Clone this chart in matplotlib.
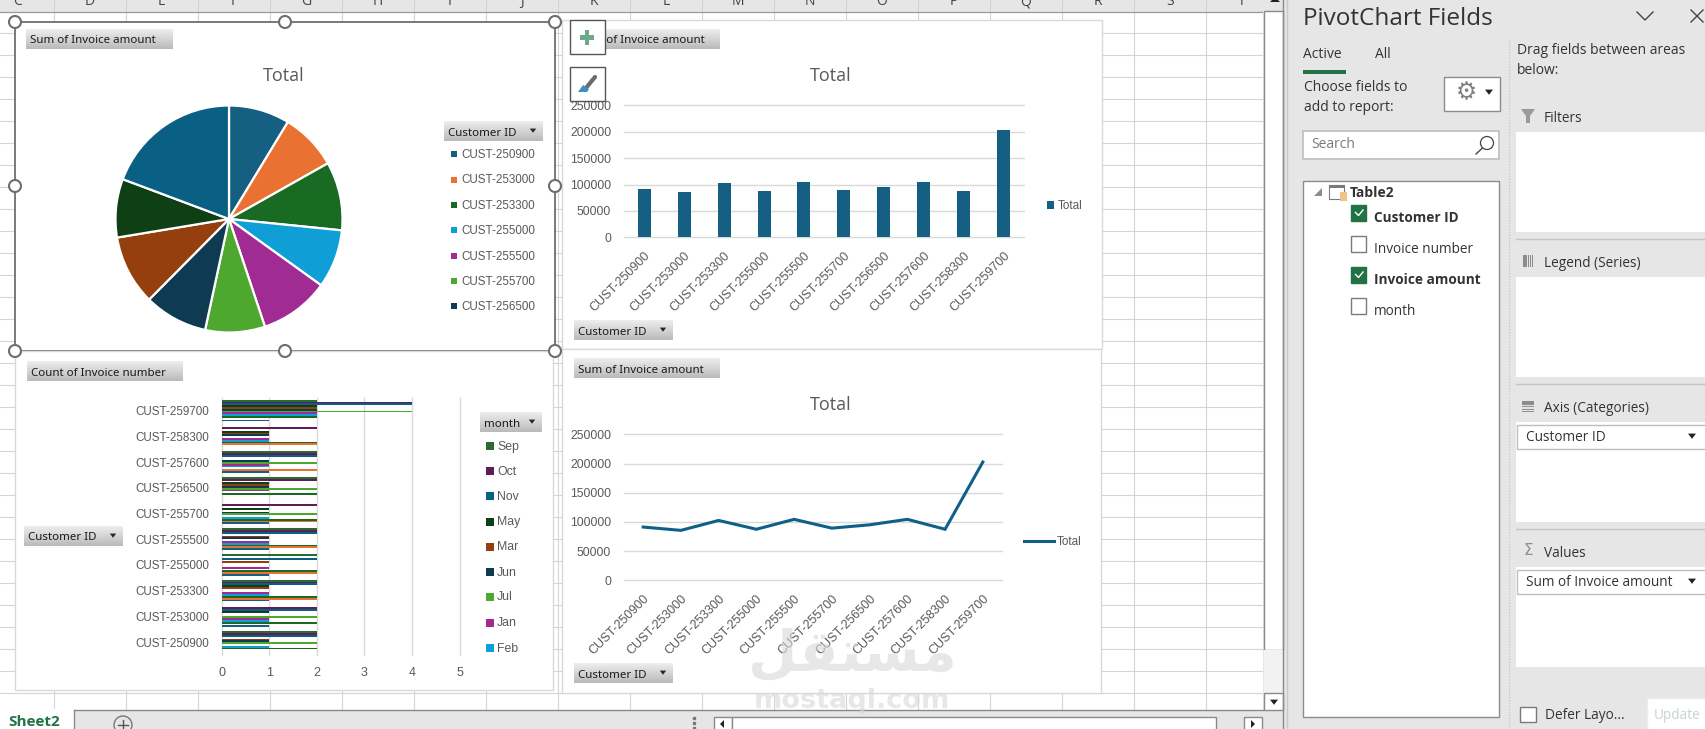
import numpy as np
import matplotlib
matplotlib.use('Agg')
import matplotlib.pyplot as plt
from matplotlib.patches import Rectangle, Circle, Polygon

W, H = 1706, 729

customers = ['CUST-250900', 'CUST-253000', 'CUST-253300', 'CUST-255000', 'CUST-255500',
             'CUST-255700', 'CUST-256500', 'CUST-257600', 'CUST-258300', 'CUST-259700']
totals = [91200, 85500, 102500, 87400, 104400, 89300, 95000, 104400, 87400, 202500]

# invoice counts per customer, one list per month
apr = [0, 1, 1, 1, 1, 1, 0, 1, 0, 1]
aug = [0, 0, 2, 2, 2, 2, 0, 2, 2, 0]
dec = [2, 2, 2, 2, 2, 2, 2, 0, 2, 2]
feb = [1, 1, 1, 0, 1, 1, 0, 1, 1, 2]
jan = [0, 1, 1, 1, 1, 0, 1, 1, 1, 2]
jul = [2, 2, 0, 0, 0, 2, 2, 2, 0, 4]
jun = [1, 0, 0, 0, 1, 1, 1, 1, 1, 2]
mar = [1, 0, 1, 1, 1, 0, 1, 0, 1, 2]
may = [0, 1, 1, 0, 0, 1, 1, 0, 1, 2]
nov = [2, 2, 2, 2, 2, 0, 0, 2, 0, 4]
oct_ = [2, 2, 2, 0, 2, 2, 2, 2, 2, 4]
sep = [2, 0, 2, 2, 2, 0, 2, 2, 0, 2]
months = ['Apr', 'Aug', 'Dec', 'Feb', 'Jan', 'Jul', 'Jun', 'Mar', 'May', 'Nov', 'Oct', 'Sep']
month_counts = [apr, aug, dec, feb, jan, jul, jun, mar, may, nov, oct_, sep]

palette = ['#156082', '#E97132', '#196B24', '#0F9ED5', '#A02B93', '#4EA72E',
           '#0E3A52', '#963F0E', '#0F3F15', '#0A5F85', '#5F1E57', '#2B6A30']

GREY = '#595959'
DARK = '#333333'
GREEN = '#217346'
PANE = '#E6E6E6'
CHART_FONT = 'Liberation Sans'
UI_FONT = 'Open Sans'

fig = plt.figure(figsize=(W / 100, H / 100), dpi=100, facecolor='white')


def px_axes(x0, y0, x1, y1, z):
    # axes placed by screen pixels, y counted from the top
    return fig.add_axes([x0 / W, 1 - y1 / H, (x1 - x0) / W, (y1 - y0) / H], zorder=z)


def screen_axes(z):
    ax = fig.add_axes([0, 0, 1, 1], zorder=z)
    ax.set_xlim(0, W)
    ax.set_ylim(H, 0)
    ax.axis('off')
    ax.patch.set_alpha(0)
    return ax


def box(ax, x0, y0, x1, y1, fc='white', ec='none', lw=1.0, z=2):
    ax.add_patch(Rectangle((x0, y0), x1 - x0, y1 - y0, facecolor=fc, edgecolor=ec, linewidth=lw, zorder=z))


def label(ax, x, y, s, size=9.8, color=DARK, family=UI_FONT, weight='normal', ha='left', z=6):
    # the UI fonts sit a little high when centred, nudge them down
    nudge = 0.8 if family == CHART_FONT else 2
    ax.text(x, y + nudge, s, fontsize=size, color=color, family=family, weight=weight, ha=ha, va='center', zorder=z)


def arrow(ax, x, y, r=3.6, color='#333333', z=6):
    ax.add_patch(Polygon([(x - r, y - r * 0.6), (x + r, y - r * 0.6), (x, y + r * 0.7)], facecolor=color, zorder=z))


def field_button(ax, x0, y0, x1, y1, text, drop=False):
    # grey gradient pivot field button
    grad = np.linspace(0.93, 0.73, 32).reshape(-1, 1)
    ax.imshow(grad, extent=(x0, x1, y1, y0), cmap='gray', vmin=0, vmax=1, aspect='auto', zorder=3)
    label(ax, x0 + 4, (y0 + y1) / 2, text, size=8.3, color='#1A1A1A', family='Noto Sans')
    if drop:
        arrow(ax, x1 - 10, (y0 + y1) / 2 - 0.5, r=3.2, color='#262626')


def chart_frame(ax, x0, y0, x1, y1, ec='#D9D9D9', lw=1.0):
    box(ax, x0, y0, x1, y1, fc='white', ec=ec, lw=lw, z=2)


def style_axis(ax):
    for s in ax.spines.values():
        s.set_visible(False)
    ax.patch.set_alpha(0)
    ax.tick_params(length=0, labelsize=8.8, labelcolor=GREY)
    for t in ax.get_xticklabels() + ax.get_yticklabels():
        t.set_family(CHART_FONT)
    # keep the outermost grid lines at full width
    for g in ax.get_xgridlines() + ax.get_ygridlines():
        g.set_clip_on(False)


# worksheet behind the charts
back = screen_axes(0)
box(back, 0, 0, W, 11.5, fc=PANE, z=1)
back.plot([0, 1264], [11.5, 11.5], color='#9A9A9A', lw=0.9, zorder=2)
for x in np.arange(54.5, 1264, 72):
    back.plot([x, x], [0, 710], color='#D4D4D4', lw=0.8, zorder=1.5)
for y in np.arange(33, 700, 22):
    back.plot([0, 1264], [y, y], color='#D4D4D4', lw=0.8, zorder=1.5)
for c, x in zip('CDEFGHIJKLMNOPQRST', np.arange(18, 1264, 72)):
    back.text(x, 1.5, c, fontsize=10, color='#444444', family=UI_FONT, ha='center', va='center', zorder=3)

chart_frame(back, 15, 22, 555, 351, ec='#6E6E6E', lw=1.3)
chart_frame(back, 15, 351, 553.5, 690)
chart_frame(back, 562.5, 20, 1102, 349)
chart_frame(back, 562.5, 349, 1101, 693)

# pie of invoice totals
pie_ax = px_axes(229 - 113.5, 219 - 113.5, 229 + 113.5, 219 + 113.5, 1)
pie_ax.pie(totals, colors=palette[:10], startangle=90, counterclock=False, radius=1.0,
           wedgeprops={'edgecolor': 'white', 'linewidth': 1.6})
pie_ax.set_xlim(-1, 1)
pie_ax.set_ylim(-1, 1)

# columns of invoice totals
bar_ax = px_axes(624.3, 105.3, 1023.6, 237.3, 1)
bar_ax.bar(np.arange(10), totals, width=0.325, color=palette[0], zorder=3)
bar_ax.set_xlim(-0.5, 9.5)
bar_ax.set_ylim(0, 250000)
bar_ax.set_yticks(np.arange(0, 250001, 50000))
bar_ax.set_xticks(np.arange(10))
bar_ax.set_xticklabels(customers, rotation=45, ha='right', rotation_mode='anchor', fontsize=9)
bar_ax.grid(axis='y', color='#D9D9D9', lw=1.0, zorder=0)
style_axis(bar_ax)
bar_ax.tick_params(axis='x', pad=9, labelsize=9)
bar_ax.tick_params(axis='y', pad=9.5)

# line of invoice totals
line_ax = px_axes(624.3, 434.3, 1001.7, 580.3, 1)
line_ax.plot(np.arange(10), totals, color='#0F6089', lw=2.2, solid_joinstyle='miter', zorder=3)
line_ax.set_xlim(-0.5, 9.5)
line_ax.set_ylim(0, 250000)
line_ax.set_yticks(np.arange(0, 250001, 50000))
line_ax.set_xticks(np.arange(10))
line_ax.set_xticklabels(customers, rotation=45, ha='right', rotation_mode='anchor', fontsize=9)
line_ax.grid(axis='y', color='#D9D9D9', lw=1.0, zorder=0)
style_axis(line_ax)
line_ax.tick_params(axis='x', pad=9, labelsize=9)
line_ax.tick_params(axis='y', pad=9.5)

# clustered bars of invoice counts per month
hbar_ax = px_axes(221.8, 397.7, 459.6, 655, 1)
slot = 0.07
for k, (counts, col) in enumerate(zip(month_counts, palette)):
    hbar_ax.barh(np.arange(10) + (k - 5.5) * slot, counts, height=slot, color=col, zorder=3)
hbar_ax.set_xlim(0, 5)
hbar_ax.set_ylim(-0.5, 9.5)
hbar_ax.set_xticks(range(6))
hbar_ax.set_yticks(np.arange(10))
hbar_ax.set_yticklabels(customers)
hbar_ax.grid(axis='x', color='#D9D9D9', lw=1.0, zorder=0)
style_axis(hbar_ax)
hbar_ax.tick_params(axis='y', pad=9, labelsize=8.4)
hbar_ax.tick_params(axis='x', pad=8.5, labelsize=9)

# everything on top of the charts: buttons, legends, task pane
top = screen_axes(3)

for x, y in [(284, 74), (831, 74), (831, 403)]:
    label(top, x, y, 'Total', size=13, color=GREY, family=UI_FONT, ha='center')

field_button(top, 26, 29, 173, 48.7, 'Sum of Invoice amount')
field_button(top, 444, 121, 543, 141, 'Customer ID', drop=True)
field_button(top, 575, 29, 720, 48.7, 'Sum of Invoice amount')
field_button(top, 574, 320, 673, 340, 'Customer ID', drop=True)
field_button(top, 27, 361, 183, 381, 'Count of Invoice number')
field_button(top, 24, 526, 123, 546, 'Customer ID', drop=True)
field_button(top, 480, 412, 542, 432, 'month', drop=True)
field_button(top, 574, 358, 720, 378, 'Sum of Invoice amount')
field_button(top, 574, 663, 673, 683, 'Customer ID', drop=True)

# pie legend, first seven customers are visible
for name, col, y in zip(customers[:7], palette, [153.7, 179.5, 204.7, 229.7, 255.7, 280.7, 305.7]):
    box(top, 451, y - 3, 457, y + 3, fc=col, z=5)
    label(top, 461, y, name, size=8.4, color=GREY, family=CHART_FONT)

# month legend, newest entries first and cut off after Feb
legend_months = months[::-1][:9]
legend_colors = palette[::-1][:9]
for name, col, y in zip(legend_months, legend_colors, [445.7, 470.7, 495.7, 521.7, 546.7, 571.7, 596.7, 622.7, 647.7]):
    box(top, 486, y - 4, 494.5, y + 4, fc=col, z=5)
    label(top, 497, y, name, size=8.8, color=GREY, family=CHART_FONT)

box(top, 1047, 201, 1054, 208.5, fc=palette[0], z=5)
label(top, 1057.5, 204.7, 'Total', size=8.4, color=GREY, family=CHART_FONT)
top.plot([1024, 1054], [541, 541], color='#0F6089', lw=2.2, zorder=5)
label(top, 1057, 541, 'Total', size=8.4, color=GREY, family=CHART_FONT)

# selection handles on the active chart
for hx in (15, 285, 555):
    for hy in (22, 186, 351):
        if (hx, hy) != (285, 186):
            top.add_patch(Circle((hx, hy), 6, facecolor='white', edgecolor='#6E6E6E', linewidth=1.5, zorder=7))

# chart side buttons
box(top, 570, 20, 604.6, 54, fc='white', ec='#555555', lw=1.0, z=6)
box(top, 570, 67, 604.6, 101, fc='white', ec='#555555', lw=1.0, z=6)
box(top, 580, 35, 594.5, 39.5, fc='#6FA88A', z=7)
box(top, 585, 30, 589.5, 44.5, fc='#6FA88A', z=7)
top.plot([586, 595], [88, 77], color='#6B6B6B', lw=3, solid_capstyle='round', zorder=7)
top.add_patch(Polygon([(578, 92), (583, 85), (589, 89), (587, 92)], facecolor='#3F8FC4', zorder=8))

# watermark
top.text(852, 655, 'ﻞﻘﺘﺴﻣ', fontsize=41, color='#D8D8D8', alpha=0.6, family='DejaVu Sans', weight='bold',
         ha='center', va='center', zorder=9)
top.text(852, 701, 'mostaql.com', fontsize=19.5, color='#D8D8D8', alpha=0.6, family='DejaVu Sans', weight='bold',
         ha='center', va='center', zorder=9)

# vertical scrollbar
box(top, 1263, 0, 1287, H, fc=PANE, z=1.5)
box(top, 1264, 11, 1283, 650, fc='white', ec='#8A8A8A', lw=1.0, z=2)
box(top, 1264, 650, 1283, 693, fc='#F2F2F2', z=2)
box(top, 1264, 693, 1283, 710, fc='white', ec='#8A8A8A', lw=1.0, z=2)
arrow(top, 1274, 702, r=4, color='#222222')
top.add_patch(Polygon([(1270, 2), (1280, 2), (1275, -3)], facecolor='#222222', zorder=6))

# sheet tabs and horizontal scrollbar
box(top, 0, 710, 1287, H, fc=PANE, z=1.6)
box(top, 0, 709, 74, H, fc='white', z=1.7)
top.plot([74, 1263], [710, 710], color='#8A8A8A', lw=1.0, zorder=2)
top.plot([74, 74], [710, H], color='#8A8A8A', lw=1.0, zorder=2)
top.text(8, 722.5, 'Sheet2', fontsize=11, color=GREEN, family=UI_FONT, weight='bold', va='center', zorder=6)
top.add_patch(Circle((123, 725), 9, facecolor=PANE, edgecolor='#777777', linewidth=1, zorder=3))
top.plot([118, 128], [725, 725], color='#555555', lw=1, zorder=4)
top.plot([123, 123], [720, 730], color='#555555', lw=1, zorder=4)
top.plot([694, 694, 694], [718, 723, 728], ls='none', marker='s', ms=1.5, color='#777777', zorder=4)
box(top, 714, 717, 732, H + 2, fc='white', ec='#8A8A8A', lw=1.0, z=3)
box(top, 732, 717, 1216.5, H + 2, fc='white', ec='#8A8A8A', lw=1.0, z=3)
box(top, 1244, 717, 1262, H + 2, fc='white', ec='#8A8A8A', lw=1.0, z=3)
top.add_patch(Polygon([(720, 724), (724, 720), (724, 728)], facecolor='#222222', zorder=5))
top.add_patch(Polygon([(1255, 724), (1251, 720), (1251, 728)], facecolor='#222222', zorder=5))

# PivotChart Fields pane
box(top, 1283, 0, W, H, fc=PANE, z=1.8)
top.plot([1283.5, 1283.5], [0, H], color='#8A8A8A', lw=1.0, zorder=2)
top.plot([1287, 1287], [0, H], color='#C8C8C8', lw=1.0, zorder=2)
top.plot([1509, 1509], [40, H], color='#C0C0C0', lw=0.8, ls=':', zorder=2)
label(top, 1303, 16.5, 'PivotChart Fields', size=17.5, color=DARK)
top.plot([1637, 1645, 1653], [12, 20, 12], color='#444444', lw=1.0, zorder=5)
top.plot([1691, 1703], [10, 22], color='#444444', lw=1.0, zorder=5)
top.plot([1691, 1703], [22, 10], color='#444444', lw=1.0, zorder=5)
label(top, 1303, 52.5, 'Active', size=10)
label(top, 1375, 52.5, 'All', size=10)
box(top, 1303, 70, 1346, 74, fc=GREEN, z=3)
label(top, 1304, 85, 'Choose fields to', size=10)
label(top, 1304, 105, 'add to report:', size=10)
box(top, 1444, 76.5, 1500, 110.5, fc='white', ec='#8C8C8C', lw=1.0, z=3)
top.text(1466, 92.5, '\u2699', fontsize=17, color='#808080', family='DejaVu Sans', weight='bold',
         ha='center', va='center', zorder=6)
arrow(top, 1489, 92, r=4, color='#222222')
box(top, 1303.5, 130.5, 1499.5, 159, fc='white', ec='#BEBEBE', lw=1.2, z=3)
label(top, 1311, 142.5, 'Search', size=10, color='#7A7A7A')
top.add_patch(Circle((1487, 143), 6.5, facecolor='none', edgecolor='#444444', linewidth=0.9, zorder=6))
top.plot([1476, 1482.5], [154, 148], color='#444444', lw=1, zorder=6)

box(top, 1303.5, 180.5, 1499.5, 717, fc='white', ec='#8C8C8C', lw=1.0, z=3)
top.add_patch(Polygon([(1314, 196), (1322, 196), (1322, 188)], facecolor='#8C8C8C', zorder=6))
box(top, 1329.5, 184.5, 1344, 198.5, fc='white', ec='#7A7A7A', lw=0.8, z=5)
box(top, 1329.5, 184.5, 1344, 187.5, fc='#7A7A7A', z=6)
box(top, 1340, 192, 1347, 201, fc='#F2C38A', z=7)
label(top, 1350, 191, 'Table2', size=10, weight='bold')
field_rows = [('Customer ID', 217, True), ('Invoice number', 248, False),
              ('Invoice amount', 279, True), ('month', 310, False)]
for name, y, checked in field_rows:
    box(top, 1351.5, y - 12, 1366.5, y + 4, fc=GREEN if checked else 'white',
        ec=GREEN if checked else '#7A7A7A', lw=1.0, z=5)
    if checked:
        top.plot([1355.5, 1358.5, 1363], [y - 4.5, y - 1.5, y - 7], color='white', lw=1.0, zorder=6)
    label(top, 1374, y - 1, name, size=9.8, weight='bold' if checked else 'normal')

label(top, 1517, 48, 'Drag fields between areas', size=10)
label(top, 1517, 68, 'below:', size=10)

area_boxes = [(132, 232), (277, 377), (422, 522), (567, 667)]
for a, b in area_boxes:
    box(top, 1516, a, W, b, fc='white', z=3)
for y in (239, 384, 529):
    top.plot([1516, W], [y, y], color='#C4C4C4', lw=1.0, zorder=3)

label(top, 1544, 116.5, 'Filters', size=9.8)
top.add_patch(Polygon([(1521, 109), (1535, 109), (1530, 116), (1530, 123), (1526, 123), (1526, 116)],
                      facecolor='#999999', zorder=6))
label(top, 1544, 261.5, 'Legend (Series)', size=9.8)
for x, w in [(1523, 4), (1528, 1), (1530, 1), (1532, 1)]:
    box(top, x, 255, x + w, 267, fc='#8C8C8C', z=6)
label(top, 1544, 406.5, 'Axis (Categories)', size=9.8)
for y, h in [(401, 4), (406, 1), (409, 1), (411, 1)]:
    box(top, 1522, y, 1534, y + h, fc='#8C8C8C', z=6)
label(top, 1544, 551.5, 'Values', size=9.8)
top.text(1528, 550.5, '\u03a3', fontsize=11, color='#8C8C8C', family='DejaVu Sans', ha='center', va='center', zorder=6)

box(top, 1517, 424.5, W + 2, 449, fc='white', ec='#BEBEBE', lw=1.0, z=4)
label(top, 1526, 435.5, 'Customer ID', size=9.8)
arrow(top, 1692, 436, r=4, color='#222222')
box(top, 1517, 569.5, W + 2, 594, fc='white', ec='#BEBEBE', lw=1.0, z=4)
label(top, 1526, 580.5, 'Sum of Invoice amount', size=9.8)
arrow(top, 1692, 581, r=4, color='#222222')

box(top, 1520.5, 706.5, 1536, 722, fc='white', ec='#7A7A7A', lw=1.0, z=4)
label(top, 1545, 713.5, 'Defer Layo...', size=9.8)
box(top, 1647, 698, W + 2, H + 2, fc='white', ec='#EDEDED', lw=1.0, z=4)
label(top, 1654, 713.5, 'Update', size=9.8, color='#C9D3CC')

top.set_xlim(0, W)
top.set_ylim(H, 0)

plt.savefig('out.png', dpi=100)
